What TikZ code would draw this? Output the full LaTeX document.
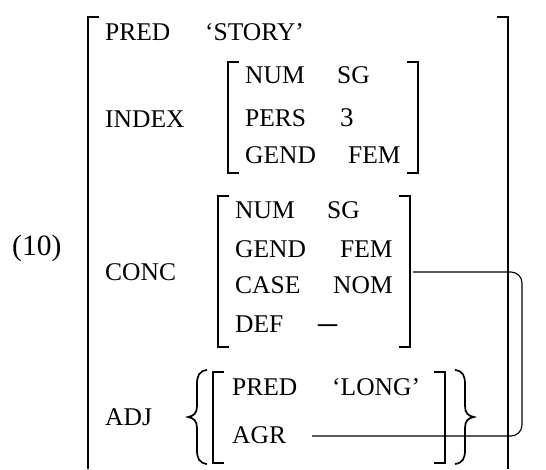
\documentclass[tikz,border=0pt]{standalone}
\usepackage{fontspec}
\setmainfont{Liberation Serif}
\begin{document}
\begin{tikzpicture}[x=1pt,y=-1pt,
  lbl/.style={anchor=base west, inner sep=0pt, font=\fontsize{25.5}{30}\selectfont},
  brk/.style={line width=1.9pt},
  obrk/.style={line width=2.1pt},
  brc/.style={line width=1.7pt},
  conn/.style={line width=1.1pt, rounded corners=11pt}]
\useasboundingbox (0,0) rectangle (546,469);

% example number
\node[lbl, font=\fontsize{29.5}{32}\selectfont] (num) at (12,255) {(10)};

% outer brackets
\draw[obrk] (99,17) -- (88,17) -- (88,469);
\draw[obrk] (497,17) -- (508,17) -- (508,469);

% PRED
\node[lbl] (pred) at (105,40) {PRED};
\node[lbl] (story) at (205,40) {`STORY'};

% INDEX
\node[lbl] (index) at (105,127) {INDEX};
\draw[brk] (239,62) -- (228,62) -- (228,173) -- (239,173);
\draw[brk] (407,62) -- (418,62) -- (418,173) -- (407,173);
\node[lbl] (inum) at (245,83) {NUM};
\node[lbl] (isg) at (337,83) {SG};
\node[lbl] (ipers) at (245,126) {PERS};
\node[lbl, font=\fontsize{27}{30}\selectfont] (ithree) at (340,126) {3};
\node[lbl] (igend) at (245,163) {GEND};
\node[lbl] (ifem) at (348,163) {FEM};

% CONC
\node[lbl] (conc) at (105,280) {CONC};
\draw[brk] (229,196) -- (218,196) -- (218,347) -- (229,347);
\draw[brk] (399,196) -- (410,196) -- (410,347) -- (399,347);
\node[lbl] (cnum) at (235,218) {NUM};
\node[lbl] (csg) at (327,218) {SG};
\node[lbl] (cgend) at (235,257) {GEND};
\node[lbl] (cfem) at (340,257) {FEM};
\node[lbl] (ccase) at (235,293) {CASE};
\node[lbl] (cnom) at (333,293) {NOM};
\node[lbl] (cdef) at (235,332) {DEF};
\node[lbl, font=\fontsize{38}{40}\selectfont] (cminus) at (318,334) {–};

% ADJ
\node[lbl] (adj) at (105,425) {ADJ};
\draw[brc] (207,370) .. controls (199,371) and (197,376) .. (197,384) -- (197,406)
  .. controls (197,413) and (194,416) .. (188,417)
  .. controls (194,418) and (197,421) .. (197,428) -- (197,450)
  .. controls (197,458) and (199,463) .. (207,464);
\draw[brc] (455,370) .. controls (463,371) and (465,376) .. (465,384) -- (465,406)
  .. controls (465,413) and (468,416) .. (474,417)
  .. controls (468,418) and (465,421) .. (465,428) -- (465,450)
  .. controls (465,458) and (463,463) .. (455,464);
\draw[brk] (224,372) -- (213,372) -- (213,463) -- (224,463);
\draw[brk] (434,372) -- (445,372) -- (445,463) -- (434,463);
\node[lbl] (apred) at (232,395) {PRED};
\node[lbl] (along) at (332,395) {`LONG'};
\node[lbl] (aagr) at (232,443) {AGR};

% structure-sharing connector
\coordinate (concR) at (413,272);
\coordinate (rail) at (522,0);
\coordinate (agrEnd) at (312,436);
\draw[conn] (concR) -- (concR -| rail) -- (agrEnd -| rail) -- (agrEnd);
\end{tikzpicture}
\end{document}
